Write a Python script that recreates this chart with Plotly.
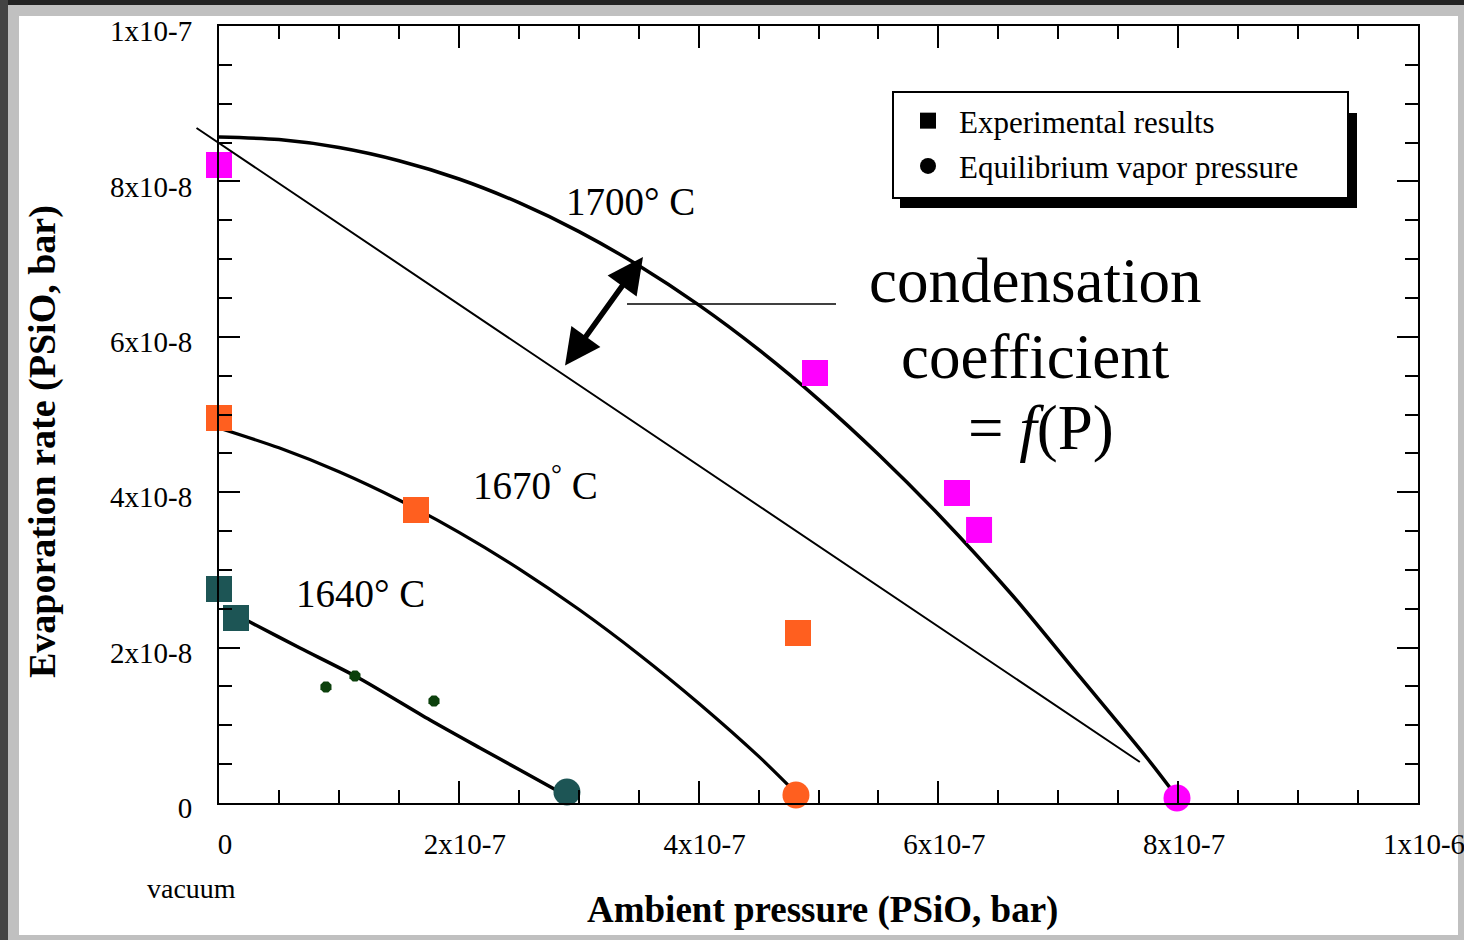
import plotly.graph_objects as go

# ---------------- data ----------------
# fitted curves
x_1700_curve = [0, 5.00e-8, 1.001e-7, 1.501e-7, 2.002e-7, 2.502e-7, 3.003e-7, 3.503e-7, 4.003e-7,
                4.504e-7, 5.004e-7, 5.505e-7, 6.005e-7, 6.622e-7, 7.181e-7, 7.740e-7, 7.990e-7]
y_1700_curve = [8.571e-8, 8.538e-8, 8.436e-8, 8.266e-8, 8.031e-8, 7.726e-8, 7.354e-8, 6.914e-8, 6.407e-8,
                5.831e-8, 5.189e-8, 4.479e-8, 3.707e-8, 2.664e-8, 1.622e-8, 0.579e-8, 0.077e-8]

x_1670_curve = [0, 5.00e-8, 1.001e-7, 1.501e-7, 2.002e-7, 2.502e-7, 3.003e-7, 3.503e-7, 4.003e-7,
                4.504e-7, 4.821e-7]
y_1670_curve = [4.826e-8, 4.571e-8, 4.263e-8, 3.900e-8, 3.484e-8, 3.014e-8, 2.490e-8, 1.912e-8, 1.281e-8,
                0.596e-8, 0.116e-8]

x_1640_curve = [1.418e-8, 2.585e-8, 6.756e-8, 1.151e-7, 1.760e-7, 2.177e-7, 2.510e-7, 2.886e-7]
y_1640_curve = [2.420e-8, 2.329e-8, 1.995e-8, 1.622e-8, 1.068e-8, 0.708e-8, 0.425e-8, 0.103e-8]

# experimental results (squares)
x_1700_exp = [0, 4.971e-7, 6.155e-7, 6.339e-7]
y_1700_exp = [8.211e-8, 5.534e-8, 3.990e-8, 3.514e-8]
x_1670_exp = [0, 1.643e-7, 4.829e-7]
y_1670_exp = [4.955e-8, 3.771e-8, 2.188e-8]
x_1640_exp = [0, 1.418e-8]
y_1640_exp = [2.754e-8, 2.381e-8]
x_1640_dots = [8.92e-8, 1.134e-7, 1.793e-7]
y_1640_dots = [1.493e-8, 1.634e-8, 1.313e-8]

# equilibrium vapor pressure (circles)
x_1700_eq = [7.990e-7]
y_1700_eq = [0.064e-8]
x_1670_eq = [4.812e-7]
y_1670_eq = [0.103e-8]
x_1640_eq = [2.902e-7]
y_1640_eq = [0.142e-8]

# straight reference line (start, end)
x_ref_line = [-2.0e-8, 7.68e-7]
y_ref_line = [8.70e-8, 0.528e-8]
# pointer line to the "condensation coefficient" text
x_pointer = [3.403e-7, 5.146e-7]
y_pointer = [6.422e-8, 6.422e-8]
# double arrow between straight line and 1700 curve
x_arrow = [2.877e-7, 3.536e-7]
y_arrow = [5.611e-8, 7.027e-8]

# axis ticks
x_tickvals = [0, 2e-7, 4e-7, 6e-7, 8e-7, 1e-6]
x_ticktext = ["0", "2x10-7", "4x10-7", "6x10-7", "8x10-7", "1x10-6"]
y_tickvals = [0, 2e-8, 4e-8, 6e-8, 8e-8, 1e-7]
y_ticktext = ["0", "2x10-8", "4x10-8", "6x10-8", "8x10-8", "1x10-7"]

# text labels: (text, x, y)
temp_labels = [
    ("1700° C", 3.436e-7, 7.740e-8),
    ("1670<sup>°</sup> C", 2.636e-7, 4.118e-8),
    ("1640° C", 1.176e-7, 2.690e-8),
]
coef_labels = [
    ("condensation", 6.806e-7, 6.718e-8),
    ("coefficient", 6.806e-7, 5.740e-8),
    ("= <i>f</i>(P)", 6.856e-7, 4.826e-8),
]

# ---------------- styling ----------------
W, H = 1464, 940
L, R, T, B = 219, 46, 26, 137
PW, PH = W - L - R, H - T - B
SERIF = "Liberation Serif, Times New Roman, serif"
MAGENTA = "#ff00ff"
ORANGE = "#ff5f1f"
TEAL = "#1d5555"
DKGREEN = "#0c400c"


def px(xp):
    return (xp - L) / PW


def py(yp):
    return (H - B - yp) / PH


fig = go.Figure()

# curves
for xs, ys, w in [(x_1700_curve, y_1700_curve, 3.5),
                  (x_1670_curve, y_1670_curve, 3.2),
                  (x_1640_curve, y_1640_curve, 3.5)]:
    fig.add_trace(go.Scatter(x=xs, y=ys, mode="lines",
                             line=dict(color="black", width=w, shape="spline", smoothing=0.8),
                             showlegend=False, hoverinfo="skip"))

# pointer line
fig.add_trace(go.Scatter(x=x_pointer, y=y_pointer, mode="lines",
                         line=dict(color="black", width=1.6), showlegend=False, hoverinfo="skip"))


def add_markers(xs, ys, color, symbol, size):
    fig.add_trace(go.Scatter(x=xs, y=ys, mode="markers", cliponaxis=False,
                             marker=dict(color=color, symbol=symbol, size=size, line=dict(width=0)),
                             showlegend=False))


add_markers(x_1700_exp, y_1700_exp, MAGENTA, "square", 26)
add_markers(x_1670_exp, y_1670_exp, ORANGE, "square", 26)
add_markers(x_1640_exp, y_1640_exp, TEAL, "square", 26)
add_markers(x_1640_dots, y_1640_dots, DKGREEN, "octagon", 12)
add_markers(x_1700_eq, y_1700_eq, MAGENTA, "circle", 27)
add_markers(x_1670_eq, y_1670_eq, ORANGE, "circle", 27)
add_markers(x_1640_eq, y_1640_eq, TEAL, "circle", 27)

# legend entries
fig.add_trace(go.Scatter(x=[None], y=[None], mode="markers", name="Experimental results",
                         marker=dict(color="black", symbol="square", size=20), legendgroup="a"))
fig.add_trace(go.Scatter(x=[None], y=[None], mode="markers", name="Equilibrium vapor pressure",
                         marker=dict(color="black", symbol="circle", size=22), legendgroup="b"))

annotations = []
# straight line (drawn as arrow without head so it can extend past the axis)
annotations.append(dict(x=x_ref_line[1], y=y_ref_line[1], ax=x_ref_line[0], ay=y_ref_line[0],
                        xref="x", yref="y", axref="x", ayref="y", text="", showarrow=True,
                        arrowhead=0, arrowwidth=2, arrowcolor="black", standoff=0, startstandoff=0))
# double arrow
annotations.append(dict(x=x_arrow[1], y=y_arrow[1], ax=x_arrow[0], ay=y_arrow[0],
                        xref="x", yref="y", axref="x", ayref="y", text="", showarrow=True,
                        arrowhead=2, arrowsize=1.3, arrowwidth=5.5, arrowside="end+start",
                        arrowcolor="black", standoff=0, startstandoff=0))

for t, x, y in temp_labels:
    annotations.append(dict(x=x, y=y, xref="x", yref="y", text=t, showarrow=False,
                            xanchor="center", yanchor="middle",
                            font=dict(family=SERIF, size=39, color="black")))
for t, x, y in coef_labels:
    annotations.append(dict(x=x, y=y, xref="x", yref="y", text=t, showarrow=False,
                            xanchor="center", yanchor="middle",
                            font=dict(family=SERIF, size=63, color="black")))

# axis titles and "vacuum"
annotations.append(dict(x=px(42), y=py(442), xref="paper", yref="paper", textangle=-90,
                        xanchor="center", yanchor="middle",
                        text="<b>Evaporation rate (PSiO, bar)</b>", showarrow=False,
                        font=dict(family=SERIF, size=38, color="black")))
annotations.append(dict(x=px(822), y=py(910), xref="paper", yref="paper",
                        xanchor="center", yanchor="middle",
                        text="<b>Ambient pressure (PSiO, bar)</b>", showarrow=False,
                        font=dict(family=SERIF, size=37, color="black")))
annotations.append(dict(x=0, y=py(888), xref="x", yref="paper", xshift=-28,
                        xanchor="center", yanchor="middle",
                        text="vacuum", showarrow=False,
                        font=dict(family=SERIF, size=28, color="black")))

shapes = [
    # page frame
    dict(type="rect", xref="paper", yref="paper", x0=px(19), x1=px(1458), y0=py(935), y1=py(16),
         fillcolor="white", line=dict(width=0), layer="below"),
    dict(type="rect", xref="paper", yref="paper", x0=px(0), x1=px(W), y0=py(5), y1=py(0),
         fillcolor="#232323", line=dict(width=0), layer="below"),
    dict(type="rect", xref="paper", yref="paper", x0=px(0), x1=px(8), y0=py(H), y1=py(0),
         fillcolor="#444444", line=dict(width=0), layer="below"),
    # legend shadow and box
    dict(type="rect", xref="paper", yref="paper", x0=px(900), x1=px(1357), y0=py(208), y1=py(113),
         fillcolor="black", line=dict(width=0), layer="above"),
    dict(type="rect", xref="paper", yref="paper", x0=px(893), x1=px(1348), y0=py(198), y1=py(92),
         fillcolor="white", line=dict(color="black", width=2), layer="above"),
]

axis_common = dict(showline=True, linecolor="black", linewidth=2, mirror="allticks",
                   ticks="inside", tickwidth=2, tickcolor="black", showgrid=False, zeroline=False,
                   automargin=False, ticklabeloverflow="allow",
                   tickmode="array", tickfont=dict(family=SERIF, size=29, color="black"))

fig.update_layout(
    template="none",
    width=W, height=H, autosize=False,
    margin=dict(l=L, r=R, t=T, b=B, pad=0),
    paper_bgcolor="#c0c0c0", plot_bgcolor="white",
    xaxis=dict(range=[0, 1e-6], tickvals=x_tickvals, ticktext=x_ticktext, ticklen=22,
               minor=dict(ticks="inside", ticklen=13, tickwidth=2, tickcolor="black", dtick=5e-8, tick0=0),
               ticklabelstandoff=14, ticklabelshift=6, **axis_common),
    yaxis=dict(range=[0, 1e-7], tickvals=y_tickvals, ticktext=y_ticktext, ticklen=21,
               minor=dict(ticks="inside", ticklen=13, tickwidth=2, tickcolor="black", dtick=5e-9, tick0=0),
               ticklabelstandoff=19, ticklabelshift=5, **axis_common),
    showlegend=True,
    legend=dict(x=px(897), y=py(94), xanchor="left", yanchor="top",
                bgcolor="rgba(0,0,0,0)", borderwidth=0,
                font=dict(family=SERIF, size=31, color="black"),
                itemwidth=52, tracegroupgap=2, itemclick=False, itemdoubleclick=False),
    annotations=annotations,
    shapes=shapes,
)

fig.write_html("out.html")
